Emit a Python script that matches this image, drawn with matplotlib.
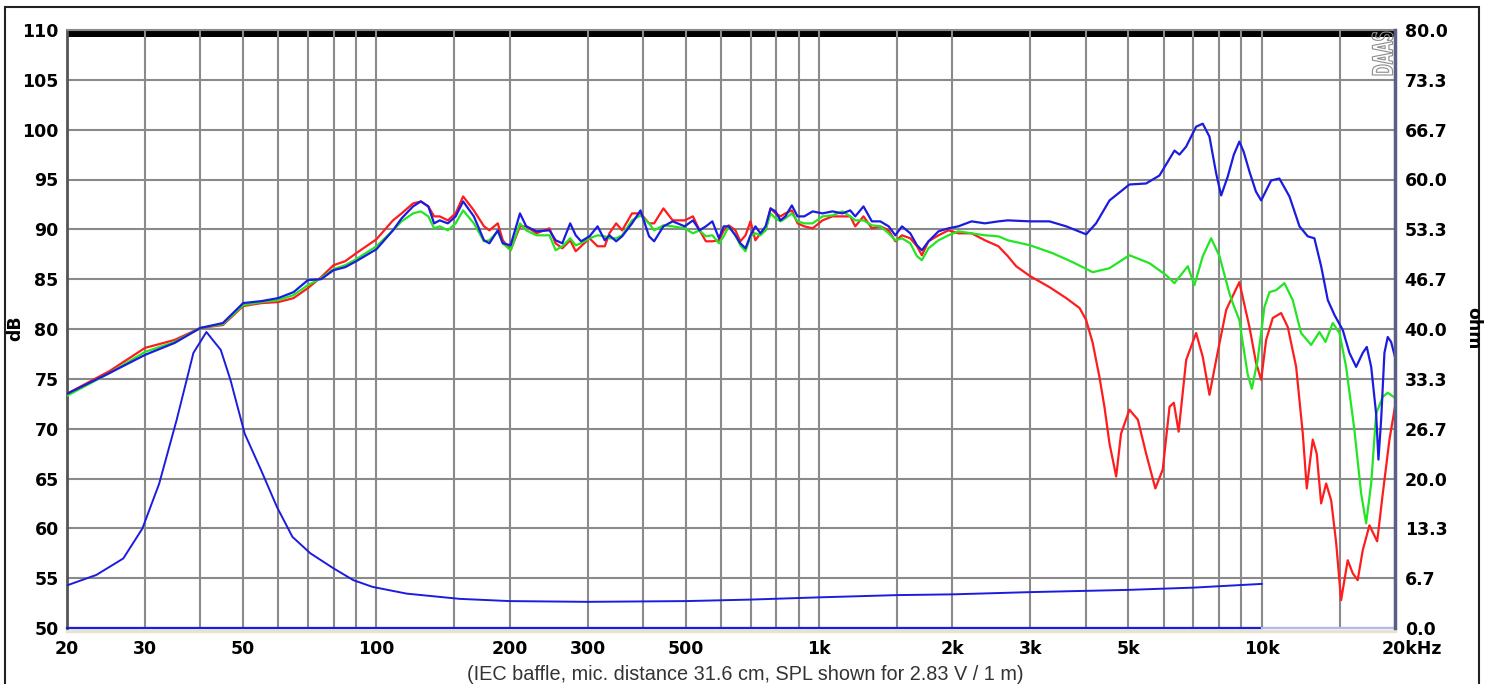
import matplotlib
matplotlib.use("Agg")
import matplotlib.pyplot as plt
import numpy as np
from matplotlib.patches import Rectangle, PathPatch
from matplotlib.textpath import TextPath
from matplotlib.font_manager import FontProperties
from matplotlib.ticker import NullFormatter
from matplotlib.transforms import Affine2D, IdentityTransform, ScaledTranslation

# ---- data ----
freq_common = [20, 25, 30, 35, 40, 45, 50, 55, 60, 65, 70, 75, 80, 85, 90, 100,
               109, 114, 121, 126, 131, 135, 139, 145, 151, 157, 166, 175, 180, 188, 193, 201, 211, 218, 230, 246,
               254, 263, 274, 282, 290, 303, 316, 328, 336, 348, 359, 378, 395, 413, 424, 445, 467,
               497, 519, 537, 555, 574, 594, 609, 625, 647, 664, 682, 700, 718, 737, 757, 777, 797, 818, 839, 868,
               894, 926, 967, 1018, 1072, 1129, 1176, 1207, 1260, 1316, 1375, 1436, 1487, 1539, 1607, 1664, 1707,
               1767, 1861, 1960, 2063, 2211, 2370, 2542, 2670]

red_common = [73.5, 75.8, 78.1, 78.9, 80.1, 80.4, 82.3, 82.6, 82.7, 83.1, 84.1, 85.2, 86.4, 86.8, 87.6, 89.0,
              90.9, 91.6, 92.6, 92.8, 92.3, 91.3, 91.3, 90.9, 91.6, 93.3, 91.9, 90.3, 89.9, 90.6, 88.9, 87.9, 90.3, 90.3, 89.6, 90.1,
              88.6, 88.1, 88.9, 87.8, 88.3, 89.1, 88.3, 88.3, 89.6, 90.6, 89.9, 91.6, 91.6, 90.6, 90.6, 92.1, 90.9,
              90.9, 91.3, 89.9, 88.8, 88.8, 88.9, 89.9, 90.4, 89.9, 88.8, 89.4, 90.8, 88.9, 89.6, 89.9, 92.1, 91.6, 91.3, 91.6, 91.9,
              90.6, 90.3, 90.1, 90.9, 91.3, 91.3, 91.3, 90.3, 91.3, 90.1, 90.3, 89.9, 88.8, 89.4, 89.1, 88.3, 87.4,
              88.8, 89.4, 89.9, 89.6, 89.6, 88.9, 88.3, 87.3]

green_common = [73.3, 75.6, 77.7, 78.7, 80.1, 80.5, 82.4, 82.7, 82.9, 83.4, 84.4, 85.1, 86.0, 86.4, 87.0, 88.3,
                89.9, 90.8, 91.6, 91.8, 91.3, 90.1, 90.3, 89.9, 90.6, 91.9, 90.6, 88.8, 88.9, 89.8, 88.6, 87.9, 90.6, 89.9, 89.4, 89.4,
                87.9, 88.3, 89.1, 88.4, 88.6, 89.1, 89.4, 89.3, 89.1, 89.1, 89.4, 90.9, 91.4, 90.6, 89.9, 90.4, 90.3,
                90.1, 89.6, 89.9, 89.3, 89.4, 88.6, 89.3, 90.3, 89.4, 88.4, 87.8, 89.3, 89.6, 89.4, 89.9, 91.6, 91.1, 90.8, 91.1, 91.6,
                90.8, 90.6, 90.6, 91.3, 91.4, 91.8, 91.3, 90.9, 90.9, 90.4, 90.3, 89.6, 88.9, 89.1, 88.6, 87.3, 86.9,
                88.1, 88.9, 89.4, 89.8, 89.6, 89.4, 89.3, 88.9]

blue_common = [73.5, 75.6, 77.4, 78.6, 80.1, 80.6, 82.6, 82.8, 83.1, 83.7, 84.9, 85.0, 85.9, 86.2, 86.8, 88.0,
               89.9, 91.1, 92.3, 92.8, 92.3, 90.6, 90.9, 90.6, 91.3, 92.8, 91.3, 88.9, 88.6, 89.9, 88.6, 88.4, 91.6, 90.3, 89.8, 89.9,
               88.9, 88.6, 90.6, 89.4, 88.8, 89.3, 90.3, 88.9, 89.4, 88.8, 89.3, 90.6, 91.9, 89.3, 88.8, 90.3, 90.8,
               90.3, 90.9, 89.9, 90.3, 90.8, 89.1, 90.3, 90.3, 89.4, 88.6, 88.1, 89.4, 90.3, 89.6, 90.3, 92.1, 91.8, 90.9, 91.3, 92.4,
               91.3, 91.3, 91.8, 91.6, 91.8, 91.6, 91.9, 91.3, 92.3, 90.8, 90.8, 90.3, 89.4, 90.3, 89.6, 88.4, 87.9,
               88.8, 89.8, 90.1, 90.3, 90.8, 90.6, 90.8, 90.9]

red_hf_freq = [2787, 2998, 3315, 3616, 3877, 4012, 4151, 4298, 4412, 4530, 4690, 4810, 5025, 5250, 5480, 5750,
               5975, 6190, 6330, 6490, 6750, 7108, 7358, 7619, 7890, 8310, 8450, 8900, 9380, 9710, 9970, 10230,
               10590, 11060, 11450, 11960, 12380, 12640, 12810, 13040, 13310, 13620, 13980, 14350, 14730, 15110,
               15370, 15640, 16050, 16470, 16910, 17510, 18230, 18770, 19430, 20000]
red_hf_spl = [86.3, 85.3, 84.2, 83.1, 82.1, 80.9, 78.6, 75.2, 72.2, 68.5, 65.2, 69.5, 71.9, 70.9, 67.5, 64.0,
              65.9, 72.2, 72.6, 69.7, 76.9, 79.6, 77.2, 73.4, 76.9, 81.9, 82.6, 84.7, 80.2, 76.6, 74.9, 78.9,
              81.1, 81.6, 80.2, 76.2, 69.5, 64.0, 66.2, 68.9, 67.5, 62.5, 64.5, 62.8, 58.5, 52.8,
              54.8, 56.8, 55.5, 54.8, 57.8, 60.3, 58.7, 63.5, 68.9, 72.2]

green_hf_freq = [2998, 3372, 3742, 4151, 4530, 5025, 5577, 6082, 6351, 6807, 7046, 7358, 7686, 8027, 8450, 8600,
                 8900, 9060, 9300, 9500, 9790, 10140, 10410, 10780, 11250, 11750, 12270, 12930, 13500, 13930,
                 14470, 14980, 15510, 16190, 16770, 17210, 17670, 18130, 18770, 19260, 20000]
green_hf_spl = [88.4, 87.6, 86.7, 85.7, 86.1, 87.4, 86.6, 85.4, 84.6, 86.3, 84.4, 87.3, 89.1, 87.3, 83.6, 82.6,
                80.9, 78.6, 75.4, 74.0, 76.9, 82.2, 83.7, 83.9, 84.6, 82.9, 79.6, 78.4, 79.7, 78.7,
                80.6, 79.6, 76.2, 69.9, 63.5, 60.5, 64.5, 71.5, 73.2, 73.6, 73.1]

blue_hf_freq = [2998, 3315, 3616, 4012, 4224, 4530, 5025, 5480, 5874, 6351, 6518, 6749, 7108, 7358, 7619, 7890,
                8097, 8380, 8650, 8900, 9100, 9380, 9700, 9970, 10500, 10960, 11550, 12170, 12700, 13150,
                13620, 14100, 14600, 15240, 15780, 16340, 16910, 17270, 17670, 18130, 18350, 18610, 18930,
                19260, 19600, 20000]
blue_hf_spl = [90.8, 90.8, 90.3, 89.5, 90.6, 92.9, 94.5, 94.6, 95.4, 97.9, 97.5, 98.3, 100.3, 100.6, 99.3, 95.6,
               93.4, 95.3, 97.5, 98.8, 97.8, 95.8, 93.8, 92.9, 94.9, 95.1, 93.3, 90.3, 89.3, 89.1,
               86.3, 82.9, 81.4, 79.9, 77.6, 76.2, 77.6, 78.2, 76.2, 71.5, 66.9, 70.9, 77.6,
               79.2, 78.7, 77.2]

imp_freq = [20, 23.3, 26.8, 29.6, 32.3, 35.4, 38.6, 41.3, 44.5, 46.8, 50.4, 54.9, 59.6, 64.6, 70.9, 79.9,
            88.7, 98, 117, 154, 200, 300, 500, 700, 1000, 1500, 2000, 3000, 5000, 7000, 10000]
imp_ohm = [5.7, 7.1, 9.3, 13.3, 19.3, 27.9, 36.8, 39.6, 37.2, 33.2, 26.0, 21.1, 16.2, 12.2, 10.0, 8.0,
           6.4, 5.5, 4.6, 3.9, 3.6, 3.5, 3.6, 3.8, 4.1, 4.4, 4.5, 4.8, 5.1, 5.4, 5.9]

base_freq_dark = [20, 10000]
base_freq_light = [10000, 20000]
base_ohm = [0, 0]

xtick_freqs = [20, 30, 50, 100, 200, 300, 500, 1000, 2000, 3000, 5000, 10000, 20000]
xtick_labels = ["20", "30", "50", "100", "200", "300", "500", "1k", "2k", "3k", "5k", "10k", "20kHz"]
grid_freqs = [20, 30, 40, 50, 60, 70, 80, 90, 100, 150, 200, 300, 400, 500, 600, 700, 800, 900, 1000,
              1500, 2000, 3000, 4000, 5000, 6000, 7000, 8000, 9000, 10000, 15000, 20000]
db_ticks = [50, 55, 60, 65, 70, 75, 80, 85, 90, 95, 100, 105, 110]
ohm_labels = ["0.0", "6.7", "13.3", "20.0", "26.7", "33.3", "40.0", "46.7", "53.3", "60.0", "66.7", "73.3", "80.0"]

plt.rcParams['font.family'] = ['DejaVu Sans']
plt.rcParams['font.weight'] = 'bold'

W, H = 1487, 684
fig = plt.figure(figsize=(W / 100, H / 100), dpi=100)
ax = fig.add_axes([67 / W, 1 - 628 / H, (1395 - 67) / W, (628 - 30) / H])
ax.set_xscale('log')
ax.set_xlim(20, 20000)
ax.set_ylim(50, 110)

ax.set_xticks(xtick_freqs)
ax.set_xticklabels(xtick_labels)
ax.set_xticks(grid_freqs, minor=True)
ax.xaxis.set_minor_formatter(NullFormatter())
ax.set_yticks(db_ticks)
ax.grid(True, which='both', color='#8a8a8a', lw=1.5)
ax.tick_params(which='both', length=0, labelsize=12.5)
ax.tick_params(axis='x', pad=9)
ax.tick_params(axis='y', pad=6)

# thick black band along the top
ax.axhspan(109.3, 110, color='black', zorder=1, lw=0)

ax.plot(freq_common + red_hf_freq, red_common + red_hf_spl, color='#ff1c1c', lw=1.6, zorder=3)
ax.plot(freq_common + green_hf_freq, green_common + green_hf_spl, color='#22e622', lw=1.6, zorder=3)
ax.plot(freq_common + blue_hf_freq, blue_common + blue_hf_spl, color='#1c1ce0', lw=1.6, zorder=3)

ax.spines['right'].set_visible(False)
ax.spines['top'].set_color('#8a8a8a')
ax.spines['top'].set_linewidth(1.5)
ax.spines['left'].set_color('#555555')
ax.spines['left'].set_linewidth(2)
ax.spines['bottom'].set_visible(False)
ax.axhline(49.72, color='#e6e4cf', lw=2.5, clip_on=False, zorder=0.5)

ax2 = ax.twinx()
ax2.set_ylim(0, 80)
ax2.set_yticks(np.linspace(0, 80, 13))
ax2.set_yticklabels(ohm_labels)
ax2.tick_params(length=0, labelsize=12.5, pad=7)
ax2.plot(imp_freq, imp_ohm, color='#1c1ce0', lw=1.4)
ax2.plot(base_freq_dark, base_ohm, color='#1c1ce0', lw=1.6, clip_on=False)
ax2.plot(base_freq_light, base_ohm, color='#b4b8ee', lw=1.6, clip_on=False)
for s in ['top', 'left', 'bottom']:
    ax2.spines[s].set_visible(False)
ax2.spines['right'].set_color('#5a5f85')
ax2.spines['right'].set_linewidth(2.5)

# last x label "20kHz" starts just left of the axis end
lab = ax.xaxis.get_majorticklabels()[-1]
lab.set_horizontalalignment('left')
lab.set_transform(lab.get_transform() + ScaledTranslation(-0.13, 0, fig.dpi_scale_trans))

fig.text(15 / W, 1 - 328 / H, 'dB', rotation=90, ha='center', va='center', fontsize=12.5, fontweight='bold')
fig.text(1473 / W, 1 - 328 / H, 'ohm', rotation=270, ha='center', va='center', fontsize=12.5, fontweight='bold')
fig.text(745 / W, 1 - 675 / H, '(IEC baffle, mic. distance 31.6 cm, SPL shown for 2.83 V / 1 m)',
         ha='center', va='center', fontsize=14.3, fontweight='normal', color='#333333',
         family='Liberation Sans')

# condensed outline "DAAS" mark
tp = TextPath((0, 0), "DAAS", size=20, prop=FontProperties(family='DejaVu Sans'))
ext = tp.get_extents()
sx = 43 / ext.width
sy = 21 / ext.height
tr = Affine2D().translate(-ext.x0, -ext.y0).scale(sx, sy).rotate_deg(90).translate(1393, H - 75)
fig.add_artist(PathPatch(tr.transform_path(tp), transform=IdentityTransform(),
                         facecolor='none', edgecolor='#8c8c8c', lw=0.8))

# outer frame
fig.add_artist(Rectangle((5 / W, -0.05), (1479 - 5) / W, 1 - 7 / H + 0.05, transform=fig.transFigure,
                         fill=False, edgecolor='#222222', lw=1.5))

fig.savefig('out.png', dpi=100)
